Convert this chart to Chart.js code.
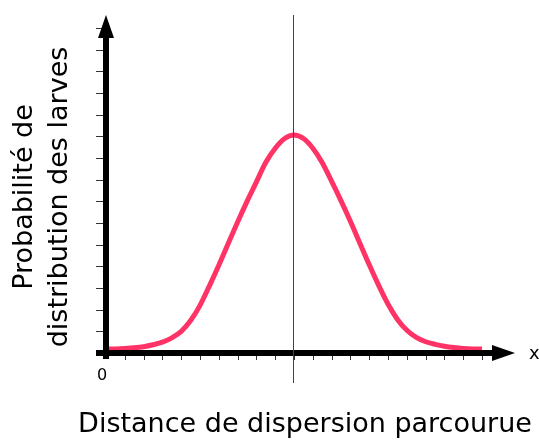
<!DOCTYPE html>
<html>
<head>
<meta charset="utf-8">
<script src="https://cdn.jsdelivr.net/npm/chart.js@4"></script>
<style>
  html, body { margin: 0; padding: 0; background: #fff; }
  canvas { display: block; }
</style>
</head>
<body>
<canvas id="larvae" width="539" height="443"></canvas>
<script>
// distance along the x axis (in tick units) and the read-off probability
const distances = [0, 0.5, 1, 1.5, 2, 2.5, 3, 3.5, 4, 4.5, 5, 5.5, 6, 6.5, 7, 7.5, 8, 8.5, 9, 9.5, 10,
    10.5, 11, 11.5, 12, 12.5, 13, 13.5, 14, 14.5, 15, 15.5, 16, 16.5, 17, 17.5, 18, 18.5, 19, 19.5, 20];
const probabilities = [0.18, 0.19, 0.21, 0.24, 0.29, 0.38, 0.5, 0.7, 1.0, 1.5, 2.2, 3.1, 4.05, 5.05, 6.05, 7.0, 7.9, 8.8, 9.45, 9.9, 10.06,
    9.9, 9.45, 8.78, 7.92, 7.02, 6.07, 5.07, 4.07, 3.12, 2.25, 1.55, 1.05, 0.72, 0.52, 0.4, 0.31, 0.25, 0.21, 0.19, 0.18];

const xTickValues = [1, 2, 3, 4, 5, 6, 7, 8, 9, 10, 11, 12, 13, 14, 15, 16, 17, 18, 19, 20];
const yTickValues = [1, 2, 3, 4, 5, 6, 7, 8, 9, 10, 11, 12, 13, 14, 15];
const originLabel = "0";
const xEndLabel = "x";
const xTitle = "Distance de dispersion parcourue";
const yTitle = ["Probabilité de", "distribution des larves"];

const FONT = "'DejaVu Sans', sans-serif";

// axes, arrows, ticks, mean line and labels
const axesPlugin = {
    id: "axes",
    afterDatasetsDraw(chart) {
        const { ctx, scales: { x, y } } = chart;
        const x0 = x.getPixelForValue(0);
        const y0 = y.getPixelForValue(0);
        const xEnd = x.getPixelForValue(x.max);
        const yEnd = y.getPixelForValue(y.max);

        ctx.save();

        // small ticks
        ctx.strokeStyle = "#333";
        ctx.lineWidth = 1;
        ctx.beginPath();
        yTickValues.forEach(v => {
            const py = Math.round(y.getPixelForValue(v)) + 0.5;
            ctx.moveTo(x0 - 10, py);
            ctx.lineTo(x0, py);
        });
        xTickValues.forEach(v => {
            const px = Math.round(x.getPixelForValue(v)) + 0.5;
            ctx.moveTo(px, y0);
            ctx.lineTo(px, y0 + 7);
        });
        ctx.stroke();

        // thick axes
        ctx.strokeStyle = "#000";
        ctx.fillStyle = "#000";
        ctx.lineWidth = 6;
        ctx.beginPath();
        ctx.moveTo(x0 - 10, y0);
        ctx.lineTo(xEnd - 20, y0);
        ctx.moveTo(x0, y0 + 6);
        ctx.lineTo(x0, yEnd + 20);
        ctx.stroke();

        // arrow heads
        ctx.beginPath();
        ctx.moveTo(xEnd, y0);
        ctx.lineTo(xEnd - 23, y0 - 8);
        ctx.lineTo(xEnd - 23, y0 + 8);
        ctx.closePath();
        ctx.fill();
        ctx.beginPath();
        ctx.moveTo(x0, yEnd);
        ctx.lineTo(x0 - 8, yEnd + 23);
        ctx.lineTo(x0 + 8, yEnd + 23);
        ctx.closePath();
        ctx.fill();

        // vertical line through the peak
        const peak = distances[probabilities.indexOf(Math.max(...probabilities))];
        const pxPeak = Math.round(x.getPixelForValue(peak)) - 0.5;
        ctx.strokeStyle = "#444";
        ctx.lineWidth = 1;
        ctx.beginPath();
        ctx.moveTo(pxPeak, yEnd);
        ctx.lineTo(pxPeak, y0 + 30);
        ctx.stroke();

        // labels
        ctx.fillStyle = "#000";
        ctx.font = `16px ${FONT}`;
        ctx.textAlign = "center";
        ctx.textBaseline = "alphabetic";
        ctx.fillText(originLabel, x0 - 4, y0 + 27);
        ctx.font = `18px ${FONT}`;
        ctx.textAlign = "left";
        ctx.fillText(xEndLabel, xEnd + 14, y0 + 6);

        ctx.font = `27px ${FONT}`;
        ctx.textAlign = "center";
        ctx.fillText(xTitle, 305, 432);

        ctx.translate(32, 197);
        ctx.rotate(-Math.PI / 2);
        yTitle.forEach((line, i) => ctx.fillText(line, 0, i * 35));

        ctx.restore();
    }
};

new Chart(document.getElementById("larvae"), {
    type: "line",
    data: {
        datasets: [{
            data: distances.map((d, i) => ({ x: d, y: probabilities[i] })),
            borderColor: "#ff3366",
            borderWidth: 5,
            pointRadius: 0,
            cubicInterpolationMode: "monotone",
            fill: false,
            clip: false
        }]
    },
    options: {
        responsive: false,
        devicePixelRatio: 1,
        animation: false,
        layout: { padding: { left: 106, right: 24, top: 15, bottom: 90 } },
        plugins: {
            legend: { display: false },
            tooltip: { enabled: false }
        },
        scales: {
            x: { type: "linear", min: 0, max: 21.75, display: false },
            y: { min: 0, max: 15.6, display: false }
        }
    },
    plugins: [axesPlugin]
});
</script>
</body>
</html>
